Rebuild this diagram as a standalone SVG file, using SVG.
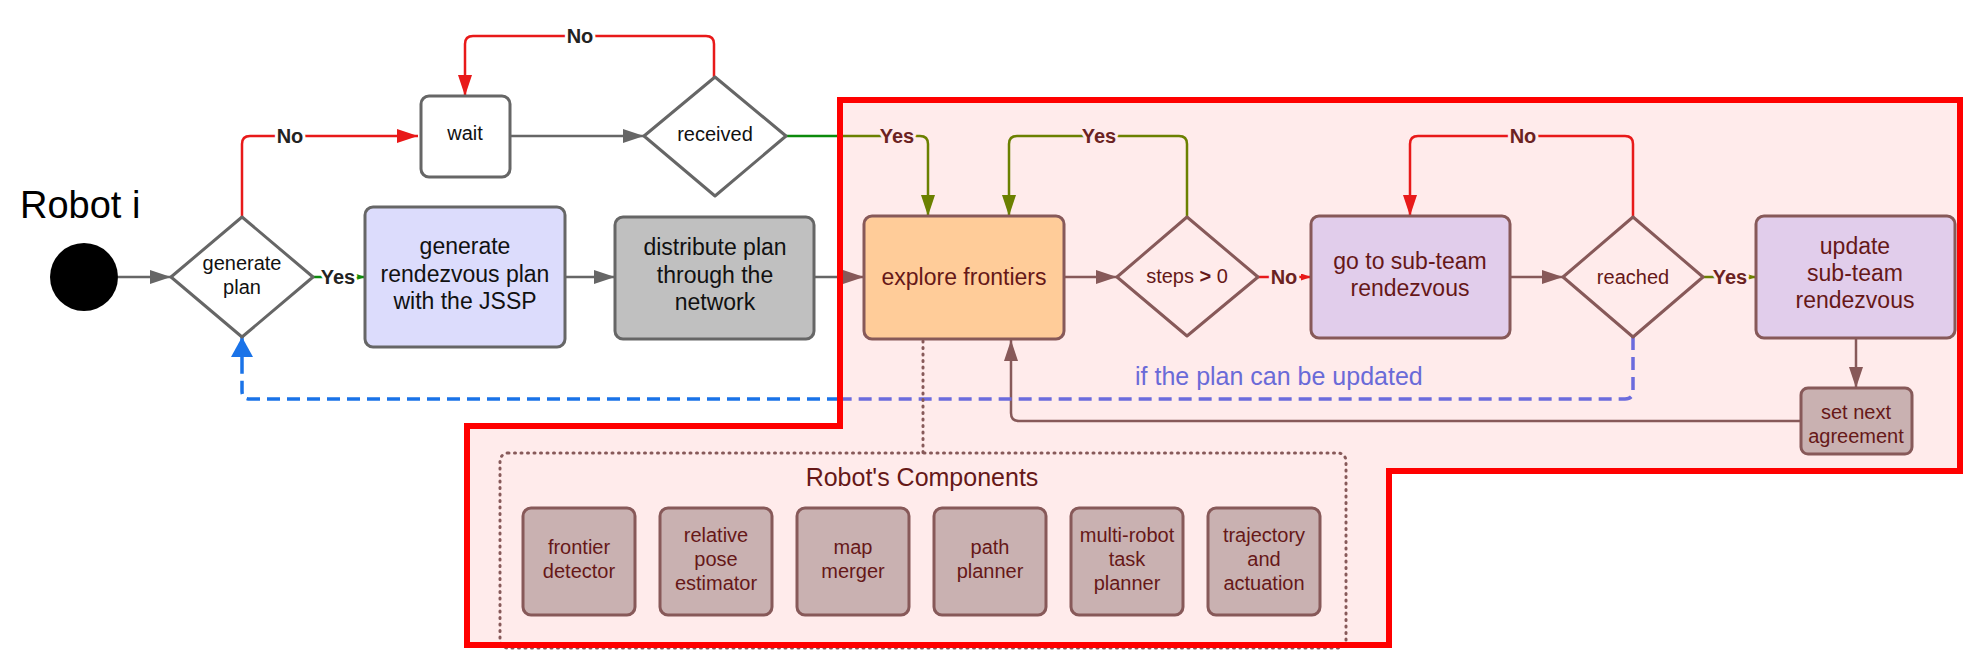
<svg xmlns="http://www.w3.org/2000/svg" width="1988" height="659" viewBox="0 0 1988 659">
<defs>
<style>
text{font-family:"Liberation Sans",Arial,sans-serif;}
.t{font-size:23px;text-anchor:middle;fill:#111;}
.ti{font-size:23px;text-anchor:middle;fill:#661818;}
.d{font-size:20px;text-anchor:middle;fill:#111;}
.di{font-size:20px;text-anchor:middle;fill:#661818;}
.c{font-size:20px;text-anchor:middle;fill:#661818;}
.lbl{font-size:20px;font-weight:bold;text-anchor:middle;paint-order:stroke;stroke-width:6px;stroke-linejoin:round;}
.lo{fill:#222;stroke:#fff;}
.li{fill:#6b2222;stroke:#ffebeb;}
.box{stroke:#666;stroke-width:3;}
.boxi{stroke:#875959;stroke-width:3;}
.ln{fill:none;stroke-width:2.5;}
.g{stroke:#666;}
.b{stroke:#875959;}
.r{stroke:#e81919;}
.gr{stroke:#0c8a0c;}
.ol{stroke:#6b8000;}
</style>
<marker id="aG" markerUnits="userSpaceOnUse" markerWidth="21" markerHeight="14" refX="21" refY="7" orient="auto"><path d="M0,0 L21,7 L0,14 z" fill="#666"/></marker>
<marker id="aB" markerUnits="userSpaceOnUse" markerWidth="21" markerHeight="14" refX="21" refY="7" orient="auto"><path d="M0,0 L21,7 L0,14 z" fill="#875959"/></marker>
<marker id="aR" markerUnits="userSpaceOnUse" markerWidth="21" markerHeight="14" refX="21" refY="7" orient="auto"><path d="M0,0 L21,7 L0,14 z" fill="#e81919"/></marker>
<marker id="aO" markerUnits="userSpaceOnUse" markerWidth="21" markerHeight="14" refX="21" refY="7" orient="auto"><path d="M0,0 L21,7 L0,14 z" fill="#6b8000"/></marker>
<marker id="aBl" markerUnits="userSpaceOnUse" markerWidth="20" markerHeight="22" refX="20" refY="11" orient="auto"><path d="M0,0 L20,11 L0,22 z" fill="#1a73e8"/></marker>
<marker id="sR" markerUnits="userSpaceOnUse" markerWidth="10" markerHeight="7" refX="10" refY="3.5" orient="auto"><path d="M0,0 L10,3.5 L0,7 z" fill="#e81919"/></marker>
<marker id="sO" markerUnits="userSpaceOnUse" markerWidth="10" markerHeight="7" refX="10" refY="3.5" orient="auto"><path d="M0,0 L10,3.5 L0,7 z" fill="#6b8000"/></marker>
<marker id="sG" markerUnits="userSpaceOnUse" markerWidth="10" markerHeight="7" refX="10" refY="3.5" orient="auto"><path d="M0,0 L10,3.5 L0,7 z" fill="#0c8a0c"/></marker>
</defs>
<rect width="1988" height="659" fill="#fff"/>
<!-- region fill -->
<polygon id="region-fill" points="840,100 1960,100 1960,471 1389,471 1389,645 467,645 467,426 840,426" fill="#ffebeb"/>

<!-- title -->
<text x="20" y="218" font-size="38" fill="#000">Robot i</text>

<!-- connectors -->
<g id="connectors">
<path class="ln g" d="M118,277 H171" marker-end="url(#aG)"/>
<path class="ln r" d="M242,217 V144 Q242,136 250,136 H418" marker-end="url(#aR)"/>
<path class="ln gr" d="M313,277 H365" marker-end="url(#sG)"/>
<path class="ln g" d="M565,277 H615" marker-end="url(#aG)"/>
<path class="ln g" d="M510,136 H644" marker-end="url(#aG)"/>
<path class="ln r" d="M714,77 V44 Q714,36 706,36 H473 Q465,36 465,44 V96" marker-end="url(#aR)"/>
<path class="ln gr" d="M786,136 H840"/>
<path class="ln ol" d="M840,136 H920 Q928,136 928,144 V216" marker-end="url(#aO)"/>
<path class="ln g" d="M814,277 H840"/>
<path class="ln b" d="M840,277 H864" marker-end="url(#aB)"/>
<path class="ln b" d="M1064,277 H1117" marker-end="url(#aB)"/>
<path class="ln ol" d="M1187,217 V144 Q1187,136 1179,136 H1017 Q1009,136 1009,144 V216" marker-end="url(#aO)"/>
<path class="ln r" d="M1258,277 H1311" marker-end="url(#sR)"/>
<path class="ln b" d="M1510,277 H1563" marker-end="url(#aB)"/>
<path class="ln r" d="M1633,217 V144 Q1633,136 1625,136 H1418 Q1410,136 1410,144 V216" marker-end="url(#aR)"/>
<path class="ln ol" d="M1703,277 H1756" marker-end="url(#sO)"/>
<path class="ln b" d="M1856,338 V388" marker-end="url(#aB)"/>
<path class="ln b" d="M1801,421 H1019 Q1011,421 1011,413 V340" marker-end="url(#aB)"/>
<path fill="none" stroke="#6b6bdd" stroke-width="3.5" stroke-dasharray="13 7" d="M1633,337 V391 Q1633,399 1625,399 H840"/>
<path fill="none" stroke="#1a73e8" stroke-width="3.5" stroke-dasharray="13 7" d="M840,399 H250 Q242,399 242,391 V362"/>
<path fill="none" stroke="#1a73e8" stroke-width="3.5" d="M242,362 V337" marker-end="url(#aBl)"/>
<path fill="none" stroke="#875959" stroke-width="3" stroke-dasharray="1 5.5" stroke-linecap="round" d="M923,341 V453"/>
<!-- labels -->
<text class="lbl lo" x="290" y="143">No</text>
<text class="lbl lo" x="580" y="43">No</text>
<text class="lbl lo" x="338" y="284">Yes</text>
<text class="lbl li" x="897" y="143">Yes</text>
<text class="lbl li" x="1099" y="143">Yes</text>
<text class="lbl li" x="1284" y="284">No</text>
<text class="lbl li" x="1523" y="143">No</text>
<text class="lbl li" x="1730" y="284">Yes</text>
<text x="1135" y="385" font-size="25" fill="#6a6ad8">if the plan can be updated</text>
</g>

<g id="start"><circle cx="84" cy="277" r="34" fill="#000"/></g>

<g id="generate-plan">
<path class="box" fill="#fff" stroke-linejoin="round" d="M242,217 L313,277 L242,337 L171,277 Z"/>
<text class="d" x="242" y="270">generate</text>
<text class="d" x="242" y="294">plan</text>
</g>

<g id="wait">
<rect class="box" fill="#fff" x="421" y="96" width="89" height="81" rx="8"/>
<text class="d" x="465" y="140">wait</text>
</g>

<g id="received">
<path class="box" fill="#fff" stroke-linejoin="round" d="M715,77 L786,136 L715,196 L644,136 Z"/>
<text class="d" x="715" y="141">received</text>
</g>

<g id="generate-rendezvous">
<rect class="box" fill="#dcdcfc" x="365" y="207" width="200" height="140" rx="8"/>
<text class="t" x="465" y="254">generate</text>
<text class="t" x="465" y="282">rendezvous plan</text>
<text class="t" x="465" y="309">with the JSSP</text>
</g>

<g id="distribute">
<rect class="box" fill="#c0c0c0" x="615" y="217" width="199" height="122" rx="8"/>
<text class="t" x="715" y="255">distribute plan</text>
<text class="t" x="715" y="283">through the</text>
<text class="t" x="715" y="310">network</text>
</g>

<g id="explore">
<rect class="boxi" fill="#ffcc99" x="864" y="216" width="200" height="123" rx="8"/>
<text class="ti" x="964" y="285">explore frontiers</text>
</g>

<g id="steps">
<path class="boxi" fill="#ffebeb" stroke-linejoin="round" d="M1187,217 L1258,277 L1187,336 L1117,277 Z"/>
<text class="di" x="1187" y="283">steps <tspan font-weight="bold">&gt;</tspan> 0</text>
</g>

<g id="goto">
<rect class="boxi" fill="#e1cdeb" x="1311" y="216" width="199" height="122" rx="8"/>
<text class="ti" x="1410" y="269">go to sub-team</text>
<text class="ti" x="1410" y="296">rendezvous</text>
</g>

<g id="reached">
<path class="boxi" fill="#ffebeb" stroke-linejoin="round" d="M1633,217 L1703,277 L1633,337 L1563,277 Z"/>
<text class="di" x="1633" y="284">reached</text>
</g>

<g id="update">
<rect class="boxi" fill="#e1cdeb" x="1756" y="216" width="199" height="122" rx="8"/>
<text class="ti" x="1855" y="254">update</text>
<text class="ti" x="1855" y="281">sub-team</text>
<text class="ti" x="1855" y="308">rendezvous</text>
</g>

<g id="set-next">
<rect class="boxi" fill="#c9b1b1" x="1801" y="388" width="111" height="66" rx="7"/>
<text class="c" x="1856" y="419">set next</text>
<text class="c" x="1856" y="443">agreement</text>
</g>

<g id="components">
<rect fill="none" stroke="#875959" stroke-width="3" stroke-dasharray="1 5.5" stroke-linecap="round" x="500" y="453" width="846" height="195" rx="8"/>
<text x="922" y="486" font-size="25" text-anchor="middle" fill="#661818">Robot's Components</text>
<g id="comp-frontier"><rect class="boxi" fill="#c9b1b1" x="523" y="508" width="112" height="107" rx="8"/><text class="c" x="579" y="554">frontier</text><text class="c" x="579" y="578">detector</text></g>
<g id="comp-pose"><rect class="boxi" fill="#c9b1b1" x="660" y="508" width="112" height="107" rx="8"/><text class="c" x="716" y="542">relative</text><text class="c" x="716" y="566">pose</text><text class="c" x="716" y="590">estimator</text></g>
<g id="comp-map"><rect class="boxi" fill="#c9b1b1" x="797" y="508" width="112" height="107" rx="8"/><text class="c" x="853" y="554">map</text><text class="c" x="853" y="578">merger</text></g>
<g id="comp-path"><rect class="boxi" fill="#c9b1b1" x="934" y="508" width="112" height="107" rx="8"/><text class="c" x="990" y="554">path</text><text class="c" x="990" y="578">planner</text></g>
<g id="comp-task"><rect class="boxi" fill="#c9b1b1" x="1071" y="508" width="112" height="107" rx="8"/><text class="c" x="1127" y="542">multi-robot</text><text class="c" x="1127" y="566">task</text><text class="c" x="1127" y="590">planner</text></g>
<g id="comp-traj"><rect class="boxi" fill="#c9b1b1" x="1208" y="508" width="112" height="107" rx="8"/><text class="c" x="1264" y="542">trajectory</text><text class="c" x="1264" y="566">and</text><text class="c" x="1264" y="590">actuation</text></g>
</g>

<polygon id="region-border" points="840,100 1960,100 1960,471 1389,471 1389,645 467,645 467,426 840,426" fill="none" stroke="#ff0000" stroke-width="6"/>
</svg>
